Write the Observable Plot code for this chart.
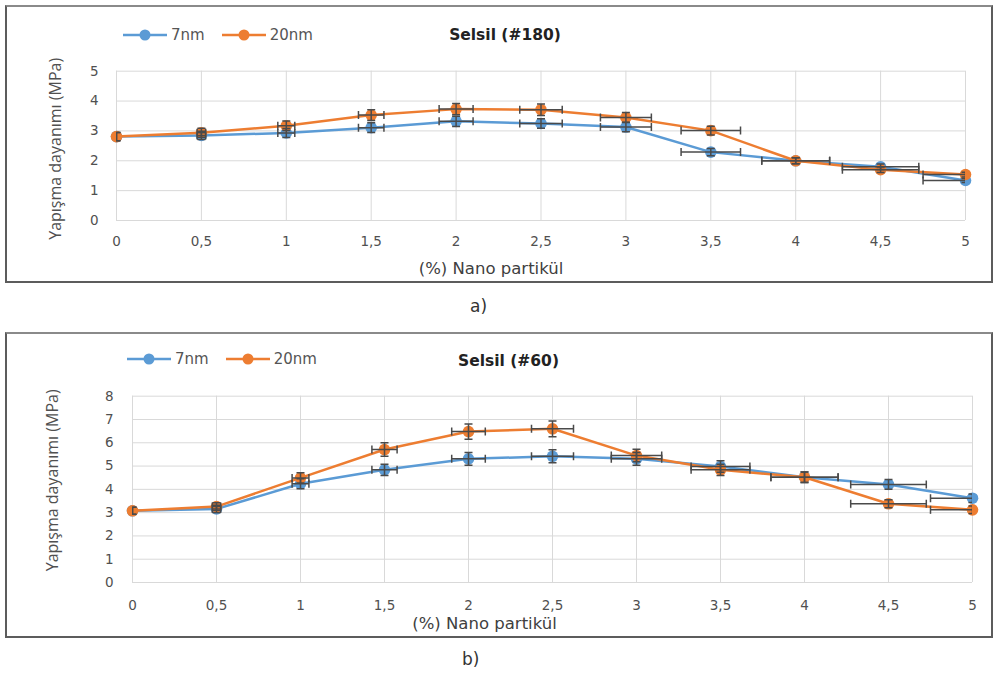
<!DOCTYPE html>
<html>
<head>
<meta charset="utf-8">
<script src="https://cdn.jsdelivr.net/npm/d3@7"></script>
<script src="https://cdn.jsdelivr.net/npm/@observablehq/plot@0.6"></script>
<style>
  body { margin: 0; background: #fff; font-family: "DejaVu Sans", sans-serif; }
  #root { position: relative; width: 995px; height: 675px; overflow: hidden; background: #fff; }
  .frame { position: absolute; border: 2px solid #5c5c5c; border-top-color: #8a8a8a; box-sizing: border-box; }
  .legend { position: absolute; display: flex; align-items: center; font-size: 15px; color: #555; font-family: "DejaVu Sans", sans-serif; }
  .legend svg { display: block; }
  .plot { position: absolute; left: 0; }
  .cap { position: absolute; font-size: 17px; color: #333; font-family: "DejaVu Sans", sans-serif; }
</style>
</head>
<body>
<div id="root"></div>
<script>
// ---------- shared ----------
const xValues = [0, 0.5, 1, 1.5, 2, 2.5, 3, 3.5, 4, 4.5, 5];
const xTickLabels = ["0", "0,5", "1", "1,5", "2", "2,5", "3", "3,5", "4", "4,5", "5"];
const seriesNames = ["7nm", "20nm"];
const seriesColors = ["#5B9BD5", "#ED7D31"];
const xErr = [0, 0.025, 0.05, 0.075, 0.1, 0.125, 0.15, 0.175, 0.2, 0.225, 0.25];
const yTitle = "Yapışma dayanımı (MPa)";
const xTitle = "(%) Nano partikül";

// ---------- panel a: Selsil (#180) ----------
const aTitle = "Selsil (#180)";
const aYTicks = [0, 1, 2, 3, 4, 5];
const a7nm  = [2.81, 2.85, 2.93, 3.11, 3.32, 3.25, 3.13, 2.29, 2.0, 1.8, 1.34];
const a20nm = [2.81, 2.94, 3.17, 3.53, 3.73, 3.71, 3.45, 3.01, 2.0, 1.7, 1.54];
const aYErr7nm  = [0.14, 0.14, 0.15, 0.16, 0.17, 0.16, 0.16, 0.12, 0.1, 0.09, 0.07];
const aYErr20nm = [0.14, 0.15, 0.16, 0.18, 0.19, 0.19, 0.17, 0.15, 0.1, 0.09, 0.08];

// ---------- panel b: Selsil (#60) ----------
const bTitle = "Selsil (#60)";
const bYTicks = [0, 1, 2, 3, 4, 5, 6, 7, 8];
const b7nm  = [3.08, 3.16, 4.24, 4.84, 5.31, 5.42, 5.31, 4.98, 4.52, 4.21, 3.62];
const b20nm = [3.08, 3.26, 4.49, 5.71, 6.48, 6.6, 5.45, 4.84, 4.52, 3.38, 3.12];
const bYErr7nm  = [0.15, 0.16, 0.21, 0.24, 0.27, 0.28, 0.27, 0.25, 0.23, 0.21, 0.18];
const bYErr20nm = [0.15, 0.16, 0.22, 0.29, 0.33, 0.34, 0.27, 0.24, 0.23, 0.17, 0.16];

function rows(vals, yErrs) {
  return vals.map((v, i) => ({x: xValues[i], y: v, xe: xErr[i], ye: yErrs[i]}));
}

const vCap = {draw(ctx) { ctx.moveTo(0, -4); ctx.lineTo(0, 4); }};
const hCap = {draw(ctx) { ctx.moveTo(-4, 0); ctx.lineTo(4, 0); }};
const errColor = "#4a4a4a";
const errWidth = 1.5;

function makeChart(cfg) {
  const series = [rows(cfg.v7, cfg.e7), rows(cfg.v20, cfg.e20)];
  const marks = [
    Plot.gridX(xValues, {stroke: "#d9d9d9", strokeOpacity: 1, strokeWidth: 1}),
    Plot.gridY(cfg.yTicks, {stroke: "#d9d9d9", strokeOpacity: 1, strokeWidth: 1}),
    Plot.axisX({ticks: xValues, tickSize: 0, tickPadding: cfg.xPad, label: null,
      tickFormat: d => xTickLabels[xValues.indexOf(d)], fill: "#505050", fontSize: 13.5}),
    Plot.axisY({ticks: cfg.yTicks, tickSize: 0, tickPadding: cfg.yPad, label: null,
      tickFormat: d => String(d), fill: "#505050", fontSize: 13.5})
  ];
  series.forEach((data, k) => {
    const c = seriesColors[k];
    marks.push(Plot.line(data, {x: "x", y: "y", stroke: c, strokeWidth: 2.5}));
    marks.push(Plot.dot(data, {x: "x", y: "y", r: 5.8, fill: c, stroke: "none"}));
  });
  series.forEach((data) => {
    const err = data.filter(d => d.xe > 0);
    const s = {stroke: errColor, strokeWidth: errWidth, clip: true};
    marks.push(Plot.link(err, {x1: d => d.x - d.xe, x2: d => d.x + d.xe, y1: "y", y2: "y", ...s}));
    marks.push(Plot.dot(err, {x: d => d.x - d.xe, y: "y", symbol: vCap, ...s}));
    marks.push(Plot.dot(err, {x: d => d.x + d.xe, y: "y", symbol: vCap, ...s}));
    marks.push(Plot.link(data, {x1: "x", x2: "x", y1: d => d.y - d.ye, y2: d => d.y + d.ye, ...s}));
    marks.push(Plot.dot(data, {x: "x", y: d => d.y + d.ye, symbol: hCap, ...s}));
    marks.push(Plot.dot(data, {x: "x", y: d => d.y - d.ye, symbol: hCap, ...s}));
  });
  marks.push(Plot.text([yTitle], {text: d => d, frameAnchor: "left", rotate: -90, dx: cfg.yTitleDx, dy: cfg.yTitleDy,
    fill: "#505050", fontSize: 16, fontFamily: "'Open Sans', sans-serif", lineAnchor: "middle", textAnchor: "middle"}));
  marks.push(Plot.text([xTitle], {text: d => d, frameAnchor: "bottom", dx: cfg.xTitleDx, dy: cfg.xTitleDy,
    fill: "#404040", fontSize: 16.5, lineAnchor: "middle", textAnchor: "middle"}));
  marks.push(Plot.text([cfg.title], {text: d => d, frameAnchor: "top", dx: cfg.titleDx, dy: cfg.titleDy,
    fill: "#222", fontSize: 15.5, fontWeight: "bold", lineAnchor: "middle", textAnchor: "middle"}));
  return Plot.plot({
    width: 995, height: cfg.height,
    marginLeft: cfg.ml, marginRight: cfg.mr, marginTop: cfg.mt, marginBottom: cfg.mb,
    x: {domain: [0, 5]},
    y: {domain: [0, cfg.yTicks[cfg.yTicks.length - 1]]},
    style: {fontFamily: "'DejaVu Sans', sans-serif", background: "transparent", overflow: "visible"},
    marks
  });
}

function legend(parent, left, top) {
  const wrap = document.createElement("div");
  wrap.className = "legend";
  wrap.style.left = left + "px";
  wrap.style.top = (top - 10) + "px";
  wrap.style.height = "20px";
  seriesNames.forEach((name, k) => {
    const svg = d3.create("svg").attr("width", 46).attr("height", 20);
    svg.append("line").attr("x1", 1).attr("x2", 45).attr("y1", 10).attr("y2", 10)
      .attr("stroke", seriesColors[k]).attr("stroke-width", 2.5);
    svg.append("circle").attr("cx", 23).attr("cy", 10).attr("r", 5.5).attr("fill", seriesColors[k]);
    wrap.appendChild(svg.node());
    const t = document.createElement("span");
    t.textContent = name;
    t.style.marginLeft = "3px";
    t.style.marginRight = k === 0 ? "16px" : "0";
    wrap.appendChild(t);
  });
  parent.appendChild(wrap);
}

const root = document.getElementById("root");

function frame(left, top, w, h) {
  const f = document.createElement("div");
  f.className = "frame";
  Object.assign(f.style, {left: left + "px", top: top + "px", width: w + "px", height: h + "px"});
  root.appendChild(f);
}
frame(5, 5, 988, 278);
frame(5, 332, 988, 306);

const chartA = makeChart({
  v7: a7nm, v20: a20nm, e7: aYErr7nm, e20: aYErr20nm, yTicks: aYTicks, title: aTitle,
  height: 300, ml: 116, mr: 30, mt: 70.7, mb: 80, xPad: 16, yPad: 18,
  yTitleDx: -61, yTitleDy: 3, xTitleDx: -50, xTitleDy: 48, titleDx: -36, titleDy: -36
});
chartA.classList.add("plot");
chartA.style.top = "0px";
root.appendChild(chartA);

const chartB = makeChart({
  v7: b7nm, v20: b20nm, e7: bYErr7nm, e20: bYErr20nm, yTicks: bYTicks, title: bTitle,
  height: 330, ml: 132, mr: 23, mt: 75.7, mb: 68, xPad: 18, yPad: 19,
  yTitleDx: -80, yTitleDy: -9, xTitleDx: -68, xTitleDy: 41, titleDx: -44, titleDy: -35
});
chartB.classList.add("plot");
chartB.style.top = "320px";
root.appendChild(chartB);

legend(root, 122, 35);
legend(root, 126, 359);

const capA = document.createElement("div");
capA.className = "cap"; capA.textContent = "a)";
Object.assign(capA.style, {left: "470px", top: "296px"});
root.appendChild(capA);
const capB = document.createElement("div");
capB.className = "cap"; capB.textContent = "b)";
Object.assign(capB.style, {left: "462px", top: "649px"});
root.appendChild(capB);
</script>
</body>
</html>
